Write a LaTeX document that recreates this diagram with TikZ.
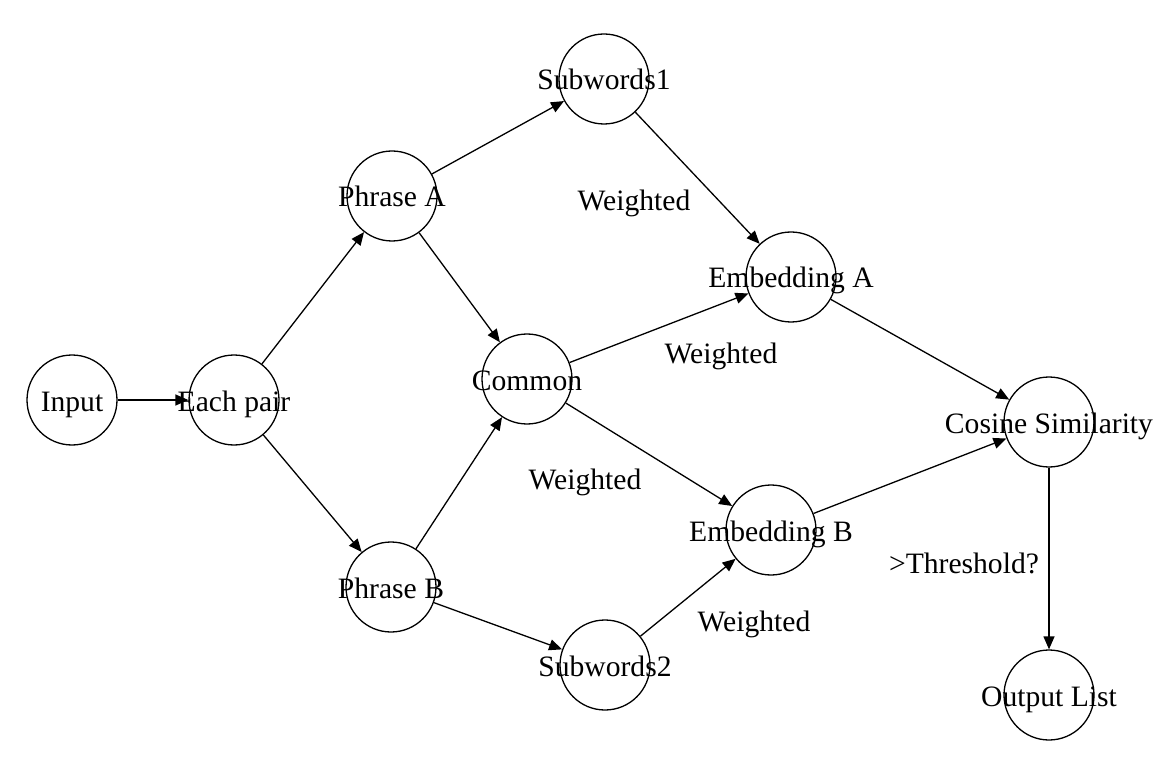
\documentclass[tikz,border=0pt]{standalone}
\usepackage{fontspec}
\setmainfont{Liberation Serif}
\usetikzlibrary{arrows.meta}
\newcommand{\ctext}[1]{\makebox[0pt]{\raisebox{-11pt}[0pt][0pt]{#1}}}
\begin{document}
\begin{tikzpicture}[x=1pt,y=-1pt,
  every node/.style={font=\fontsize{29.6}{34}\selectfont},
  circ/.style={draw, circle, line width=1.3pt, minimum size=90pt, inner sep=0pt},
  conn/.style={line width=1.3pt, -{Triangle[length=13pt,width=11pt]}},
  lbl/.style={inner sep=0pt, anchor=center}]
\useasboundingbox (0,0) rectangle (1165,767);
\node[circ] (input) at (72,400) {\ctext{Input}};
\node[circ] (pair) at (234,400) {\ctext{Each pair}};
\node[circ] (pa) at (392,196) {\ctext{Phrase A}};
\node[circ] (pb) at (391,587) {\ctext{Phrase B}};
\node[circ] (s1) at (604,79) {\ctext{Subwords1}};
\node[circ] (s2) at (605,665) {\ctext{Subwords2}};
\node[circ] (com) at (527,379) {\ctext{Common}};
\node[circ] (ea) at (791,277) {\ctext{Embedding A}};
\node[circ] (eb) at (771,530) {\ctext{Embedding B}};
\node[circ] (cos) at (1049,422) {\ctext{Cosine Similarity}};
\node[circ] (out) at (1049,695) {\ctext{Output List}};
\draw[conn] (input) -- (pair);
\draw[conn] (pair) -- (pa);
\draw[conn] (pair) -- (pb);
\draw[conn] (pa) -- (s1);
\draw[conn] (pa) -- (com);
\draw[conn] (pb) -- (com);
\draw[conn] (pb) -- (s2);
\draw[conn] (s1) -- (ea);
\draw[conn] (com) -- (ea);
\draw[conn] (com) -- (eb);
\draw[conn] (s2) -- (eb);
\draw[conn] (ea) -- (cos);
\draw[conn] (eb) -- (cos);
\draw[conn] (cos) -- (out);
\node[lbl] (w1) at (634,203) {Weighted};
\node[lbl] (w2) at (721,356) {Weighted};
\node[lbl] (w3) at (585,482) {Weighted};
\node[lbl] (w4) at (754,624) {Weighted};
\node[lbl] (th) at (964,563) {>Threshold?};
\end{tikzpicture}
\end{document}
